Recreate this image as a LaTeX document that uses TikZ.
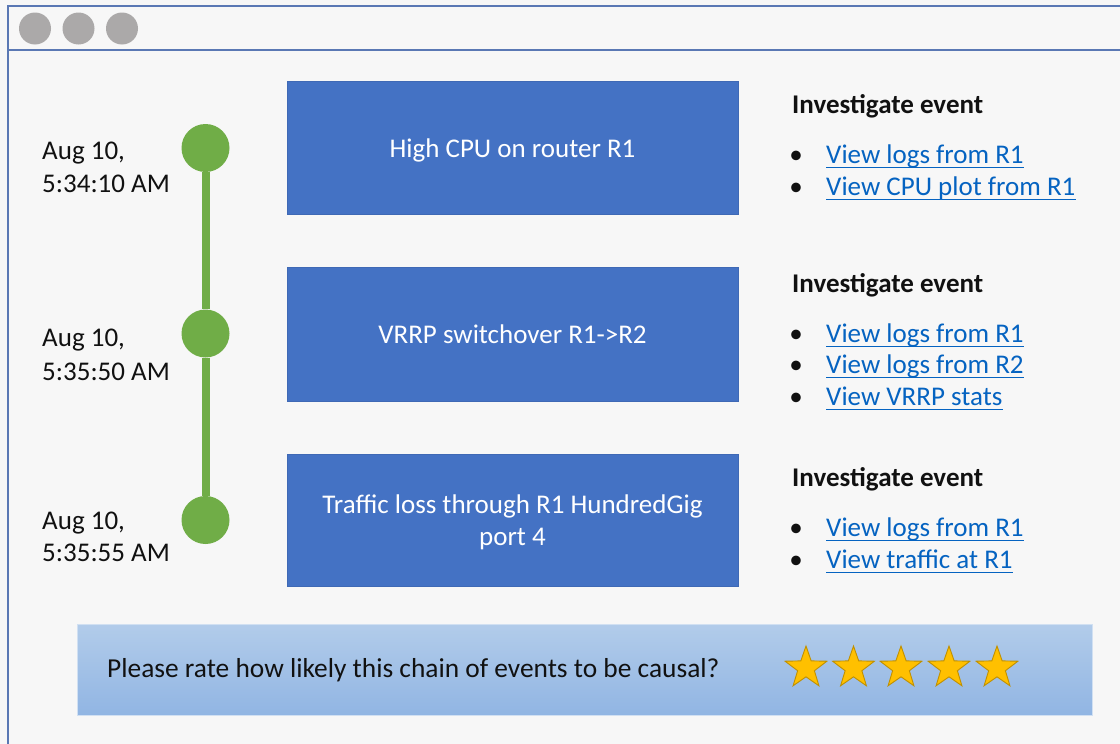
\documentclass[tikz,border=0pt]{standalone}
\usepackage{fontspec}
\setmainfont{Carlito}
\usetikzlibrary{shapes.geometric}
\definecolor{bgc}{HTML}{F7F7F7}
\definecolor{framec}{HTML}{5A78B4}
\definecolor{dotc}{HTML}{ABA9A9}
\definecolor{greenc}{HTML}{70AD47}
\definecolor{boxc}{HTML}{4472C4}
\definecolor{boxedge}{HTML}{3F69B5}
\definecolor{linkc}{HTML}{0563C1}
\definecolor{txtc}{HTML}{111111}
\definecolor{bartop}{HTML}{B2CCEA}
\definecolor{barbot}{HTML}{91B5E3}
\definecolor{staredge}{HTML}{C09000}
\definecolor{starfill}{HTML}{FFC000}
\tikzset{
  frame/.style={draw=framec, line width=1.8pt},
  wdot/.style={circle, fill=dotc, inner sep=0pt, minimum size=32pt},
  gdot/.style={circle, fill=greenc, inner sep=0pt, minimum size=48pt},
  gline/.style={draw=greenc, line width=8pt},
  ts/.style={anchor=base west, inner sep=0pt, text=txtc},
  evbox/.style={rectangle, fill=boxc, draw=boxedge, line width=0.8pt, inner sep=0pt},
  evtext/.style={anchor=base, inner sep=0pt, text=white},
  head/.style={anchor=base west, inner sep=0pt, text=txtc, font=\fontsize{27}{33}\selectfont\bfseries},
  bul/.style={anchor=base, inner sep=0pt, text=txtc},
  lnk/.style={anchor=base west, inner sep=0pt, text=linkc},
  uline/.style={draw=linkc, line width=1.5pt},
  ratebar/.style={rectangle, inner sep=0pt, top color=bartop, bottom color=barbot, draw=bartop!60!white, line width=0.8pt},
  rstar/.style={star, star points=5, star point ratio=2.5, minimum size=44pt, inner sep=0pt, fill=starfill, draw=staredge, line width=0.9pt, shape border rotate=0}
}
\begin{document}
\begin{tikzpicture}[x=1pt,y=-1pt, font=\fontsize{27}{33}\selectfont]
\useasboundingbox (0,0) rectangle (1120,744);
\fill[bgc] (0,0) rectangle (1120,744);
% window frame
\draw[frame] (1120,6) -- (8,6) -- (8,744);
\draw[frame] (8,50) -- (1120,50);
\node[wdot] (w1) at (35,28.5) {};
\node[wdot] (w2) at (78.5,28.5) {};
\node[wdot] (w3) at (122,28.5) {};
% timeline
\node[gdot] (g1) at (205.5,148) {};
\node[gdot] (g2) at (205.5,333.5) {};
\node[gdot] (g3) at (205.5,520) {};
\draw[gline] (g1) -- (g2);
\draw[gline] (g2) -- (g3);
% timestamps
\node[ts] (t1a) at (42,159) {Aug 10,};
\node[ts] (t1b) at (42,192) {5:34:10 AM};
\node[ts] (t2a) at (42,346) {Aug 10,};
\node[ts] (t2b) at (42,380) {5:35:50 AM};
\node[ts] (t3a) at (42,529) {Aug 10,};
\node[ts] (t3b) at (42,561) {5:35:55 AM};
% event boxes
\node[evbox, minimum width=451pt, minimum height=133pt] (e1) at (512.5,147.5) {};
\node[evbox, minimum width=451pt, minimum height=134pt] (e2) at (512.5,334) {};
\node[evbox, minimum width=451pt, minimum height=132pt] (e3) at (512.5,520) {};
\node[evtext] (e1t) at (512.5,157) {High CPU on router R1};
\node[evtext] (e2t) at (512.5,343) {VRRP switchover R1->R2};
\node[evtext] (e3t) at (512.5,513) {Traffic loss through R1 HundredGig};
\node[evtext] (e3u) at (512.5,545) {port 4};
% investigate lists
\node[head] (h1) at (792,113) {Investigate event};
\node[bul] (b11) at (796,163) {•};
\node[lnk] (l11) at (826,163) {View logs from R1};
\node[bul] (b12) at (796,195) {•};
\node[lnk] (l12) at (826,195) {View CPU plot from R1};
\node[head] (h2) at (792,292) {Investigate event};
\node[bul] (b21) at (796,342) {•};
\node[lnk] (l21) at (826,342) {View logs from R1};
\node[bul] (b22) at (796,373) {•};
\node[lnk] (l22) at (826,373) {View logs from R2};
\node[bul] (b23) at (796,405) {•};
\node[lnk] (l23) at (826,405) {View VRRP stats};
\node[head] (h3) at (792,486) {Investigate event};
\node[bul] (b31) at (796,536) {•};
\node[lnk] (l31) at (826,536) {View logs from R1};
\node[bul] (b32) at (796,568) {•};
\node[lnk] (l32) at (826,568) {View traffic at R1};
\foreach \l in {l11,l12,l21,l22,l23,l31,l32}{
  \draw[uline] ([yshift=-4.5pt]\l.base west) -- ([yshift=-4.5pt]\l.base east);
}
% rating bar
\node[ratebar, minimum width=1015pt, minimum height=91pt] (bar) at (584.5,669.5) {};
\node[ts, font=\fontsize{27.4}{33}\selectfont] (q) at (107,677) {Please rate how likely this chain of events to be causal?};
\node[rstar] (s1) at (806,668) {};
\node[rstar] (s2) at (853.5,668) {};
\node[rstar] (s3) at (901,668) {};
\node[rstar] (s4) at (949,668) {};
\node[rstar] (s5) at (997,668) {};
\end{tikzpicture}
\end{document}
